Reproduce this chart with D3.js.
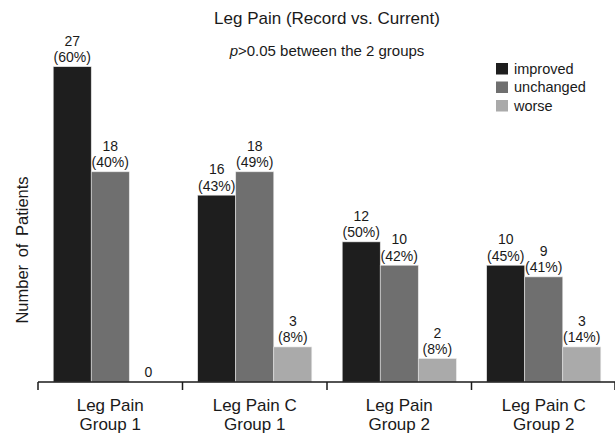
<!DOCTYPE html>
<html><head><meta charset="utf-8">
<script src="https://cdn.jsdelivr.net/npm/d3@7"></script>
<style>body{margin:0;background:#fff}svg{display:block}text{font-family:"Liberation Sans",Arial,sans-serif;fill:#1a1a1a}</style>
</head><body><div id="chart"></div>
<script>
const groups = ["Leg Pain\nGroup 1", "Leg Pain C\nGroup 1", "Leg Pain\nGroup 2", "Leg Pain C\nGroup 2"];
const series = ["improved", "unchanged", "worse"];
const improved = [27, 16, 12, 10];
const unchanged = [18, 18, 10, 9];
const worse = [0, 3, 2, 3];
const improvedPct = ["60%", "43%", "50%", "45%"];
const unchangedPct = ["40%", "49%", "42%", "41%"];
const worsePct = ["", "8%", "8%", "14%"];
const colors = ["#1e1e1e", "#6f6f6f", "#aaaaaa"];

const W = 615, H = 435;
const svg = d3.select("#chart").append("svg").attr("width", W).attr("height", H);

const x = d3.scaleBand().domain(groups).range([38, 616]).padding(0);
const xi = d3.scaleBand().domain(series).range([0, x.bandwidth()]).paddingInner(0).paddingOuter(0.4);
const y = d3.scaleLinear().domain([0, 27]).range([382, 66.7]);
const color = d3.scaleOrdinal().domain(series).range(colors);

const vals = {improved, unchanged, worse};
const pcts = {improved: improvedPct, unchanged: unchangedPct, worse: worsePct};
const data = [];
groups.forEach((g, gi) => series.forEach(s => data.push({g, s, v: vals[s][gi], p: pcts[s][gi]})));

svg.append("g").selectAll("rect").data(data).join("rect")
  .attr("x", d => x(d.g) + xi(d.s))
  .attr("y", d => y(d.v))
  .attr("width", xi.bandwidth())
  .attr("height", d => y(0) - y(d.v))
  .attr("fill", d => color(d.s))
  .attr("stroke", "#e6e6e6").attr("stroke-width", 0.6);

const lab = svg.append("g").attr("text-anchor", "middle").style("font-size", "14px");
data.forEach(d => {
  const cx = x(d.g) + xi(d.s) + xi.bandwidth() / 2;
  const top = y(d.v);
  if (d.p) {
    lab.append("text").attr("x", cx).attr("y", top - 4.5).text("(" + d.p + ")");
    lab.append("text").attr("x", cx).attr("y", top - 21).text(d.v);
  } else {
    lab.append("text").attr("x", cx).attr("y", top - 5).text(d.v);
  }
});

// x axis
const ax = svg.append("g").attr("stroke", "#1a1a1a").attr("stroke-width", 1.5);
ax.append("line").attr("x1", x.range()[0]).attr("x2", x.range()[1]).attr("y1", y(0)).attr("y2", y(0));
const ticks = groups.map(g => x(g)).concat([x.range()[1] - 1]);
ax.selectAll(".t").data(ticks).join("line")
  .attr("x1", d => d).attr("x2", d => d).attr("y1", y(0)).attr("y2", y(0) + 8);

const gl = svg.append("g").attr("text-anchor", "middle").style("font-size", "17px");
groups.forEach(g => {
  const lines = g.split("\n");
  lines.forEach((l, i) => gl.append("text").attr("x", x(g) + x.bandwidth() / 2).attr("y", 411 + i * 19).text(l));
});

// y label
svg.append("text").attr("transform", "translate(28,250) rotate(-90)")
  .attr("text-anchor", "middle").style("font-size", "16.5px").style("word-spacing", "3px").text("Number of Patients");

// titles
svg.append("text").attr("x", 327).attr("y", 24).attr("text-anchor", "middle").style("font-size", "17px").text("Leg Pain (Record vs. Current)");
const sub = svg.append("text").attr("x", 327).attr("y", 56).attr("text-anchor", "middle").style("font-size", "15px");
sub.append("tspan").style("font-style", "italic").text("p");
sub.append("tspan").text(">0.05 between the 2 groups");

// legend
const lg = svg.append("g").attr("transform", "translate(496,63)");
series.forEach((s, i) => {
  const r = lg.append("g").attr("transform", `translate(0,${i * 18.5})`);
  r.append("rect").attr("width", 12).attr("height", 11.5).attr("fill", color(s));
  r.append("text").attr("x", 18).attr("y", 10.5).style("font-size", "14.5px").text(s);
});
</script></body></html>
